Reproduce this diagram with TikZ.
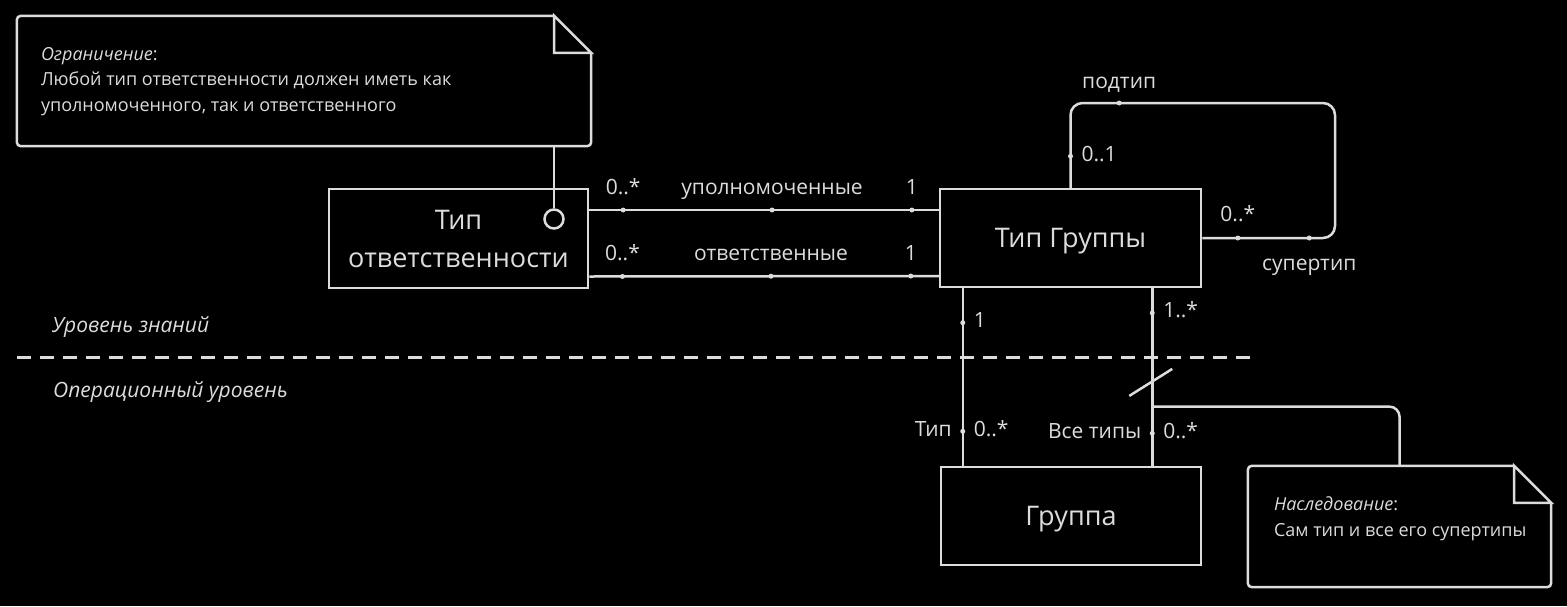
\documentclass[tikz,border=0pt]{standalone}
\usepackage{fontspec}
\setmainfont{Open Sans}
\usetikzlibrary{calc}
\definecolor{umlfg}{HTML}{DCDCDC}
\tikzset{
  umlclass/.style={draw=umlfg, line width=2.5pt, minimum width=260pt, minimum height=98pt,
    align=center, text=umlfg, font=\fontsize{27}{38}\selectfont},
  assoc/.style={draw=umlfg, line width=2.5pt},
  enddot/.style={circle, fill=umlfg, inner sep=0pt, minimum size=5pt},
  lbl/.style={text=umlfg, font=\fontsize{21}{24}\selectfont, inner sep=2pt,
    text height=15pt, text depth=5pt},
  notebox/.style={inner sep=0pt},
  noteline/.style={draw=umlfg, line width=2.5pt, rounded corners=4pt},
  foldline/.style={draw=umlfg, line width=2.5pt, line join=miter},
  notetext/.style={text=umlfg, font=\fontsize{18}{25.5}\selectfont, align=left, inner sep=0pt, anchor=north west},
  level/.style={text=umlfg, font=\fontsize{21}{24}\selectfont\itshape, anchor=west, inner sep=0pt},
}
\begin{document}
\begin{tikzpicture}[x=1pt, y=-1pt]
\fill[black] (0,0) rectangle (1567,606);
\useasboundingbox (0,0) rectangle (1567,606);

% classes
\node[umlclass, minimum width=259pt, minimum height=99pt] (resp) at (458.5,238.5) {Тип\\ответственности};
\node[umlclass, minimum width=261pt, text depth=0pt] (grtype) at (1070.5,238) {Тип Группы};
\node[umlclass, text depth=0pt] (group) at (1071,516) {Группа};

% constraint note
\node[notebox, minimum width=574pt, minimum height=130pt] (cnote) at (304,81) {};
\draw[noteline] ([xshift=-37pt]cnote.north east) -- (cnote.north west) -- (cnote.south west)
  -- (cnote.south east) -- ([yshift=-37pt]cnote.north east);
\draw[foldline] ([xshift=-37pt]cnote.north east) -- ([yshift=-37pt]cnote.north east) -- ++(-37,0) -- cycle;
\node[notetext] (ctext) at ([shift={(24,31)}]cnote.north west)
  {\textit{Ограничение}:\\Любой тип ответственности должен иметь как\\уполномоченного, так и ответственного};
\node[circle, draw=umlfg, fill=black, line width=2.5pt, minimum size=19pt, inner sep=0pt] (hole) at (554,219) {};
\draw[assoc, line width=2pt] (hole.north) -- (hole |- cnote.south);

% associations between the types
\draw[assoc] ([yshift=28.5pt]resp.east) -- ([yshift=28pt]grtype.west)
  node[enddot, pos=0.097, label={[lbl, label distance=4pt]above:0..*}] (a1) {}
  node[enddot, pos=0.523, label={[lbl, label distance=4pt]above:уполномоченные}] (a2) {}
  node[enddot, pos=0.923, label={[lbl, label distance=4pt]above:1}] (a3) {};
\draw[assoc] ([yshift=-38pt]resp.east) -- ([yshift=-38pt]grtype.west)
  node[enddot, pos=0.095, label={[lbl, label distance=4pt]above:0..*}] (b1) {}
  node[enddot, pos=0.520, label={[lbl, label distance=4pt]above:ответственные}] (b2) {}
  node[enddot, pos=0.920, label={[lbl, label distance=4pt]above:1}] (b3) {};

% hierarchy on the group type
\coordinate (loop) at (1335,103);
\draw[assoc, rounded corners=12pt] (grtype.north) |- (loop)
  node[enddot, pos=0.186, label={[lbl, label distance=4pt]right:0..1}] (h1) {}
  node[enddot, pos=0.592, label={[lbl, label distance=3pt]above:подтип}] (h2) {}
  |- (grtype.east)
  node[enddot, pos=0.597, label={[lbl, label distance=10pt]below:супертип}] (h3) {}
  node[enddot, pos=0.866, label={[lbl, label distance=5pt]above:0..*}] (h4) {};

% levels
\draw[umlfg, line width=3pt, dash pattern=on 14pt off 9pt] (17,357) -- (1253,357);
\node[level] (know) at (52,327) {Уровень знаний};
\node[level] (oper) at (53,392) {Операционный уровень};

% group links
\draw[assoc] ([xshift=24pt]grtype.south west) -- ([xshift=23pt]group.north west)
  node[enddot, pos=0.194, label={[lbl, label distance=4pt]right:1}] (t1) {}
  node[enddot, pos=0.806, label={[lbl, label distance=4pt]left:Тип},
    label={[lbl, label distance=4pt]right:0..*}] (t2) {};
\draw[assoc] ([xshift=-50pt]grtype.south east) -- ([xshift=-50pt]group.north east)
  node[enddot, pos=0.139, label={[lbl, label distance=4pt]right:1..*}] (s1) {}
  coordinate[pos=0.522] (cut)
  coordinate[pos=0.667] (branch)
  node[enddot, pos=0.817, label={[lbl, label distance=4pt]left:Все типы},
    label={[lbl, label distance=4pt]right:0..*}] (s2) {};
\draw[assoc] ([shift={(-23,15)}]cut) -- ([shift={(20,-12)}]cut);

% inheritance note
\node[notebox, minimum width=303pt, minimum height=121pt] (inote) at (1399.5,526.5) {};
\draw[noteline] ([xshift=-37pt]inote.north east) -- (inote.north west) -- (inote.south west)
  -- (inote.south east) -- ([yshift=-37pt]inote.north east);
\draw[foldline] ([xshift=-37pt]inote.north east) -- ([yshift=-37pt]inote.north east) -- ++(-37,0) -- cycle;
\node[notetext] (itext) at ([shift={(26,31)}]inote.north west)
  {\textit{Наследование}:\\Сам тип и все его супертипы};
\draw[assoc, rounded corners=10pt] (branch) -| (inote.north);
\end{tikzpicture}
\end{document}
